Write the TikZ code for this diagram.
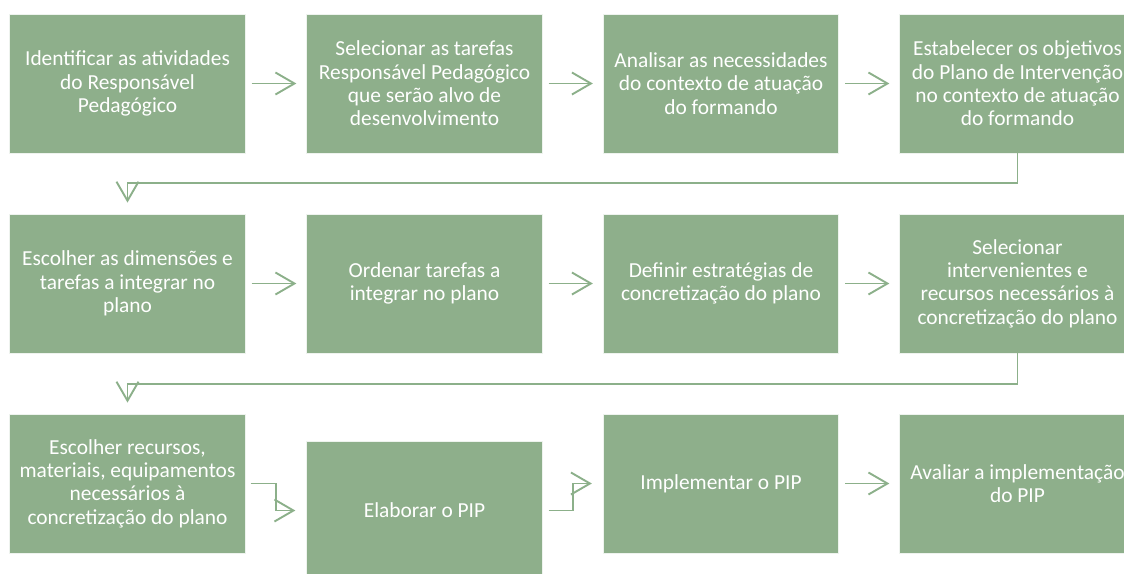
\documentclass[tikz,border=0pt]{standalone}
\usepackage{fontspec}
\setmainfont{Carlito}
\usetikzlibrary{arrows.meta}
\definecolor{boxgreen}{RGB}{142,175,139}
\definecolor{linegreen}{RGB}{140,176,138}
\begin{document}
\begin{tikzpicture}[x=1pt,y=-1pt,
  stepbox/.style={fill=boxgreen, draw=white!85!boxgreen, line width=0.8pt,
    minimum width=235.5pt, minimum height=139pt, inner sep=0pt,
    align=center, text=white, font=\fontsize{21.4}{23.4}\selectfont},
  conn/.style={draw=linegreen, line width=1.9pt,
    -{Straight Barb[length=19pt,width=22pt,line width=1.9pt]}},
  straight/.style={conn, shorten <=6pt, shorten >=10pt}
]
\useasboundingbox (0,0) rectangle (1124,573);
\fill[white] (0,0) rectangle (1124,573);
\clip (0,0) rectangle (1124,573);

% row 1
\node[stepbox] (b1) at (127.5,83.5) {Identificar as atividades\\do Responsável\\Pedagógico};
\node[stepbox] (b2) at (424.5,83.5) {Selecionar as tarefas\\Responsável Pedagógico\\que serão alvo de\\desenvolvimento};
\node[stepbox] (b3) at (721,83.5) {Analisar as necessidades\\do contexto de atuação\\do formando};
\node[stepbox] (b4) at (1017.5,83.5) {Estabelecer os objetivos\\do Plano de Intervenção\\no contexto de atuação\\do formando};
% row 2
\node[stepbox] (b5) at (127.5,283.5) {Escolher as dimensões e\\tarefas a integrar no\\plano};
\node[stepbox] (b6) at (424.5,283.5) {Ordenar tarefas a\\integrar no plano};
\node[stepbox] (b7) at (721,283.5) {Definir estratégias de\\concretização do plano};
\node[stepbox] (b8) at (1017.5,283.5) {Selecionar\\intervenientes e\\recursos necessários à\\concretização do plano};
% row 3
\node[stepbox] (b9) at (127.5,483.5) {Escolher recursos,\\materiais, equipamentos\\necessários à\\concretização do plano};
\node[stepbox] (b10) at (424.5,510.5) {Elaborar o PIP};
\node[stepbox] (b11) at (721,483.5) {Implementar o PIP};
\node[stepbox] (b12) at (1017.5,483.5) {Avaliar a implementação\\do PIP};

% connectors
\draw[straight] (b1) -- (b2);
\draw[straight] (b2) -- (b3);
\draw[straight] (b3) -- (b4);
\coordinate (t1) at (1017.5,183);
\draw[conn, shorten >=11pt] (b4.south) -- (t1) -| (b5.north);
\draw[straight] (b5) -- (b6);
\draw[straight] (b6) -- (b7);
\draw[straight] (b7) -- (b8);
\coordinate (t2) at (1017.5,384);
\draw[conn, shorten >=11pt] (b8.south) -- (t2) -| (b9.north);
\coordinate (e1) at (276,483.5);
\draw[conn, shorten <=5pt, shorten >=11pt] (b9.east) -- (e1) |- (b10.west);
\coordinate (e2) at (573,510.5);
\draw[conn, shorten <=6pt, shorten >=11pt] (b10.east) -- (e2) |- (b11.west);
\draw[straight] (b11) -- (b12);
\end{tikzpicture}
\end{document}
